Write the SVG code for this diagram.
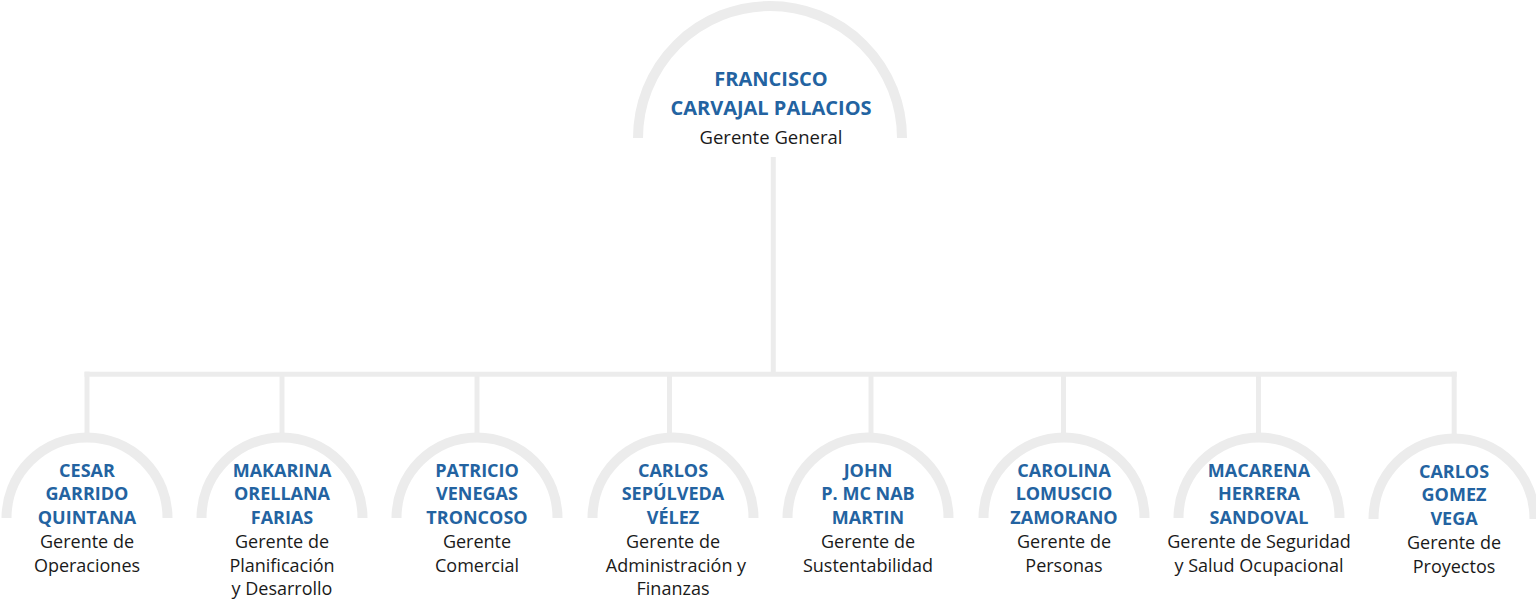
<svg xmlns="http://www.w3.org/2000/svg" width="1536" height="600" viewBox="0 0 1536 600">
<style>
.arc{fill:none;stroke:#ececec;stroke-width:10}
.con{fill:none;stroke:#ececec;stroke-width:5}
.nm{font-family:"Open Sans","Noto Sans",sans-serif;font-weight:700;font-size:18px;fill:#2363a1;text-anchor:middle}
.nmt{font-size:20px}
.rl{font-family:"Open Sans","Noto Sans",sans-serif;font-weight:400;font-size:18px;fill:#1a1a1a;text-anchor:middle}
</style>
<rect width="1536" height="600" fill="#ffffff"/>
<g id="connectors">
<path class="con" d="M773.3,157 V374.2"/>
<path class="con" d="M84.5,374.2 H1456.7"/>
<path class="con" d="M87,371.7 V434"/>
<path class="con" d="M282,374 V434"/>
<path class="con" d="M477,374 V434"/>
<path class="con" d="M669.5,374 V434"/>
<path class="con" d="M871,374 V434"/>
<path class="con" d="M1063.5,374 V434"/>
<path class="con" d="M1258.5,374 V434"/>
<path class="con" d="M1454.2,371.7 V434"/>
</g>
<g id="node-top">
<path class="arc" d="M638,138 A132,132 0 0 1 902,138"/>
<text class="nm nmt" x="771" y="86">FRANCISCO</text>
<text class="nm nmt" x="771" y="115">CARVAJAL PALACIOS</text>
<text class="rl" x="771" y="144" style="font-size:18.5px">Gerente General</text>
</g>
<g id="node-1">
<path class="arc" d="M6.5,518 A80.5,80.5 0 0 1 167.5,518"/>
<text class="nm" x="87" y="476.5">CESAR</text>
<text class="nm" x="87" y="500.2">GARRIDO</text>
<text class="nm" x="87" y="524">QUINTANA</text>
<text class="rl" x="87" y="547.8">Gerente de</text>
<text class="rl" x="87" y="571.5">Operaciones</text>
</g>
<g id="node-2">
<path class="arc" d="M201.5,518 A80.5,80.5 0 0 1 362.5,518"/>
<text class="nm" x="282" y="476.5">MAKARINA</text>
<text class="nm" x="282" y="500.2">ORELLANA</text>
<text class="nm" x="282" y="524">FARIAS</text>
<text class="rl" x="282" y="547.8">Gerente de</text>
<text class="rl" x="282" y="571.5">Planificación</text>
<text class="rl" x="282" y="595.2">y Desarrollo</text>
</g>
<g id="node-3">
<path class="arc" d="M396.5,518 A80.5,80.5 0 0 1 557.5,518"/>
<text class="nm" x="477" y="476.5">PATRICIO</text>
<text class="nm" x="477" y="500.2">VENEGAS</text>
<text class="nm" x="477" y="524">TRONCOSO</text>
<text class="rl" x="477" y="547.8">Gerente</text>
<text class="rl" x="477" y="571.5">Comercial</text>
</g>
<g id="node-4">
<path class="arc" d="M592.5,518 A80.5,80.5 0 0 1 753.5,518"/>
<text class="nm" x="673" y="476.5">CARLOS</text>
<text class="nm" x="673" y="500.2">SEPÚLVEDA</text>
<text class="nm" x="673" y="524">VÉLEZ</text>
<text class="rl" x="673" y="547.8">Gerente de</text>
<text class="rl" x="676" y="571.5">Administración y</text>
<text class="rl" x="673" y="595.2">Finanzas</text>
</g>
<g id="node-5">
<path class="arc" d="M787.5,518 A80.5,80.5 0 0 1 948.5,518"/>
<text class="nm" x="868" y="476.5">JOHN</text>
<text class="nm" x="868" y="500.2">P. MC NAB</text>
<text class="nm" x="868" y="524">MARTIN</text>
<text class="rl" x="868" y="547.8">Gerente de</text>
<text class="rl" x="868" y="571.5">Sustentabilidad</text>
</g>
<g id="node-6">
<path class="arc" d="M983.5,518 A80.5,80.5 0 0 1 1144.5,518"/>
<text class="nm" x="1064" y="476.5">CAROLINA</text>
<text class="nm" x="1064" y="500.2">LOMUSCIO</text>
<text class="nm" x="1064" y="524">ZAMORANO</text>
<text class="rl" x="1064" y="547.8">Gerente de</text>
<text class="rl" x="1064" y="571.5">Personas</text>
</g>
<g id="node-7">
<path class="arc" d="M1178.5,518 A80.5,80.5 0 0 1 1339.5,518"/>
<text class="nm" x="1259" y="476.5">MACARENA</text>
<text class="nm" x="1259" y="500.2">HERRERA</text>
<text class="nm" x="1259" y="524">SANDOVAL</text>
<text class="rl" x="1259" y="547.8">Gerente de Seguridad</text>
<text class="rl" x="1259" y="571.5">y Salud Ocupacional</text>
</g>
<g id="node-8">
<path class="arc" d="M1373.5,519 A80.5,80.5 0 0 1 1534.5,519"/>
<text class="nm" x="1454" y="477.5">CARLOS</text>
<text class="nm" x="1454" y="501.2">GOMEZ</text>
<text class="nm" x="1454" y="525">VEGA</text>
<text class="rl" x="1454" y="548.8">Gerente de</text>
<text class="rl" x="1454" y="572.5">Proyectos</text>
</g>
</svg>
